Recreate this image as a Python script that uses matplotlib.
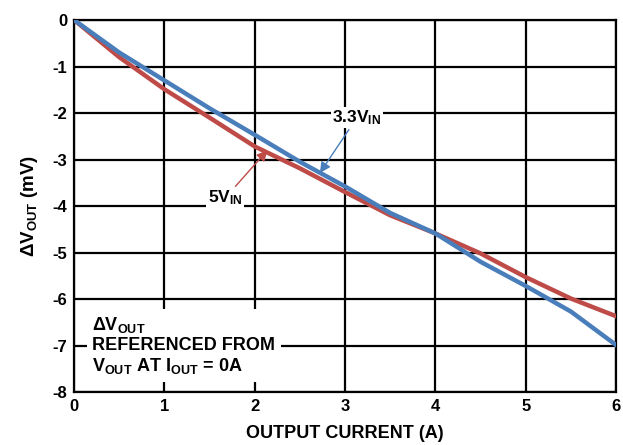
import matplotlib
matplotlib.use("Agg")
import matplotlib.pyplot as plt

plt.rcParams['font.family'] = ['Liberation Sans', 'DejaVu Sans']
plt.rcParams['font.weight'] = 'bold'
plt.rcParams['mathtext.fontset'] = 'custom'
plt.rcParams['mathtext.rm'] = 'Liberation Sans:bold'
plt.rcParams['mathtext.bf'] = 'Liberation Sans:bold'
plt.rcParams['mathtext.it'] = 'Liberation Sans:bold'

# data
current = [0, 0.5, 1, 1.5, 2, 2.5, 3, 3.5, 4, 4.5, 5, 5.5, 6]
dv_3v3 = [0, -0.70, -1.30, -1.90, -2.47, -3.05, -3.58, -4.15, -4.59, -5.20, -5.72, -6.27, -6.99]
dv_5v = [0, -0.80, -1.49, -2.10, -2.72, -3.19, -3.70, -4.20, -4.59, -5.02, -5.53, -5.99, -6.37]
x_ticks = [0, 1, 2, 3, 4, 5, 6]
y_ticks = [0, -1, -2, -3, -4, -5, -6, -7, -8]

blue = '#4a7ebb'
red = '#be4b48'

fig = plt.figure(figsize=(6.23, 4.45), dpi=100)
ax = fig.add_axes([0.119, 0.119, 0.870, 0.836])

ax.plot(current, dv_5v, color=red, lw=3.2, zorder=3)
ax.plot(current, dv_3v3, color=blue, lw=3.2, zorder=4)

ax.set_xlim(0, 6)
ax.set_ylim(-8, 0)
ax.set_xticks(x_ticks)
ax.set_yticks(y_ticks)
ax.set_xticklabels([str(v) for v in x_ticks], fontsize=12, fontweight='bold')
ax.set_yticklabels([str(v) for v in y_ticks], fontsize=12, fontweight='bold')
ax.tick_params(length=0, pad=5)
ax.grid(True, color='black', lw=1.6, zorder=1)
for s in ax.spines.values():
    s.set_linewidth(1.6)

ax.set_xlabel('OUTPUT CURRENT (A)', fontsize=13, fontweight='bold', labelpad=8)
ax.set_ylabel(r'ΔV$_\mathrm{OUT}$ (mV)', fontsize=13.5, fontweight='bold', labelpad=9)

box = dict(facecolor='white', edgecolor='none', pad=1.0)
ax.annotate(r'3.3V$_\mathrm{IN}$', xy=(2.72, -3.29), xytext=(3.13, -2.1),
            fontsize=12.5, fontweight='bold', ha='center', va='center', bbox=box,
            arrowprops=dict(arrowstyle='-|>', color=blue, lw=1.0, mutation_scale=16,
                            shrinkA=1, shrinkB=0), zorder=5)
ax.annotate(r'5V$_\mathrm{IN}$', xy=(2.14, -2.80), xytext=(1.67, -3.83),
            fontsize=12.5, fontweight='bold', ha='center', va='center', bbox=box,
            arrowprops=dict(arrowstyle='-|>', color=red, lw=1.0, mutation_scale=16,
                            shrinkA=1, shrinkB=0), zorder=5)

ax.text(0.2, -7.0, 'ΔV$_\\mathrm{OUT}$\nREFERENCED FROM\nV$_\\mathrm{OUT}$ AT I$_\\mathrm{OUT}$ = 0A',
        fontsize=13, fontweight='bold', ha='left', va='center', linespacing=1.15,
        bbox=dict(facecolor='white', edgecolor='none', pad=4), zorder=5)

fig.savefig('out.png', dpi=100)
